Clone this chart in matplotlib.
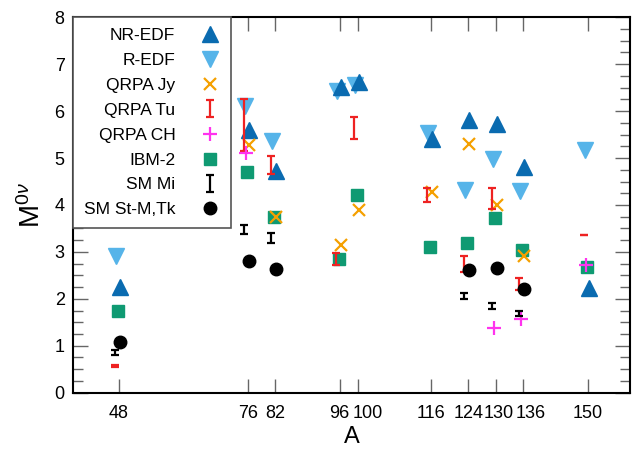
import matplotlib
matplotlib.use("Agg")
import matplotlib.pyplot as plt
from matplotlib.ticker import FixedLocator, MultipleLocator
from matplotlib.transforms import ScaledTranslation

plt.rcParams['font.family'] = ['Liberation Sans', 'DejaVu Sans']
plt.rcParams['mathtext.fontset'] = 'custom'
plt.rcParams['mathtext.rm'] = 'Liberation Sans'
plt.rcParams['mathtext.it'] = 'Liberation Sans:italic'

# ---- data ----
A_ticks = [48, 76, 82, 96, 100, 116, 124, 130, 136, 150]

nr_A = [48, 76, 82, 96, 100, 116, 124, 130, 136, 150]
nr_edf = [2.25, 5.60, 4.72, 6.52, 6.62, 5.40, 5.82, 5.73, 4.80, 2.23]

r_A = [48, 76, 82, 96, 100, 116, 124, 130, 136, 150]
r_edf = [2.92, 6.12, 5.37, 6.43, 6.56, 5.54, 4.31, 4.98, 4.30, 5.18]

jy_A = [76, 82, 96, 100, 116, 124, 130, 136]
qrpa_jy = [5.27, 3.74, 3.15, 3.90, 4.28, 5.30, 4.00, 2.91]

tu_A = [48, 76, 82, 96, 100, 116, 124, 130, 136, 150]
qrpa_tu = [0.57, 5.71, 4.85, 2.85, 5.64, 4.21, 2.74, 4.14, 2.31, 3.37]
qrpa_tu_err = [0.02, 0.55, 0.19, 0.12, 0.23, 0.15, 0.17, 0.23, 0.13, 0.0]

ch_A = [76, 130, 136, 150]
qrpa_ch = [5.10, 1.38, 1.56, 2.72]

ibm_A = [48, 76, 82, 96, 100, 116, 124, 130, 136, 150]
ibm2 = [1.75, 4.70, 3.75, 2.84, 4.22, 3.10, 3.20, 3.72, 3.05, 2.68]

mi_A = [48, 76, 82, 124, 130, 136]
sm_mi = [0.85, 3.48, 3.30, 2.06, 1.85, 1.69]
sm_mi_err = [0.05, 0.10, 0.10, 0.07, 0.07, 0.06]

tk_A = [48, 76, 82, 124, 130, 136]
sm_tk = [1.08, 2.81, 2.64, 2.62, 2.65, 2.20]

# ---- figure ----
fig = plt.figure(figsize=(6.35, 4.55), dpi=100)
ax = fig.add_axes([0.115, 0.137, 0.877, 0.825])

def shift(px):
    return ax.transData + ScaledTranslation(px / 100.0, 0, fig.dpi_scale_trans)

c_nr = '#0a6bb0'
c_r = '#56b4e9'
c_jy = '#f5a000'
c_tu = '#ee2222'
c_ch = '#ff33ee'
c_ibm = '#0f9a72'

h_nr, = ax.plot(nr_A, nr_edf, ls='none', marker='^', ms=11.5, color=c_nr,
                zorder=3, transform=shift(1))
h_r, = ax.plot(r_A, r_edf, ls='none', marker='v', ms=11.5, color=c_r,
               zorder=2, transform=shift(-3))
h_ibm, = ax.plot(ibm_A, ibm2, ls='none', marker='s', ms=8.5, color=c_ibm,
                 zorder=2.5, transform=shift(-1))
h_jy, = ax.plot(jy_A, qrpa_jy, ls='none', marker='x', ms=9, mew=1.6,
                color=c_jy, zorder=3.5, transform=shift(1))
h_tu = ax.errorbar(tu_A, qrpa_tu, yerr=qrpa_tu_err, fmt='none', ecolor=c_tu,
                   elinewidth=1.6, capsize=3, capthick=1.6, zorder=4,
                   transform=shift(-4))
h_ch, = ax.plot(ch_A, qrpa_ch, ls='none', marker='+', ms=10, mew=1.6,
                color=c_ch, zorder=4, transform=shift(-2))
h_mi = ax.errorbar(mi_A, sm_mi, yerr=sm_mi_err, fmt='none', ecolor='black',
                   elinewidth=1.6, capsize=3, capthick=1.6, zorder=4,
                   transform=shift(-4))
h_tk, = ax.plot(tk_A, sm_tk, ls='none', marker='o', ms=9, color='black',
                zorder=4.5, transform=shift(1))

ax.set_xlim(38, 159.2)
ax.set_ylim(0, 8)

ax.xaxis.set_major_locator(FixedLocator(A_ticks))
ax.set_xticklabels([str(a) for a in A_ticks])
ax.yaxis.set_major_locator(MultipleLocator(1))
ax.yaxis.set_minor_locator(MultipleLocator(0.25))

ax.tick_params(axis='x', which='major', direction='in', length=10, width=1,
               color='#666666', top=True, bottom=True, labelsize=13, pad=9)
ax.tick_params(axis='y', which='major', direction='in', length=11, width=1,
               color='#666666', left=True, right=True, labelsize=13, pad=6)
ax.tick_params(axis='y', which='minor', direction='in', length=7, width=1,
               color='#666666', left=True, right=True)

# nudge crowded x tick labels apart (as in the reference)
label_nudge_px = {100: 10, 130: 3, 136: 7}
for a, lab in zip(A_ticks, ax.get_xticklabels()):
    dx = label_nudge_px.get(a, 0)
    if dx:
        lab.set_transform(lab.get_transform() +
                          ScaledTranslation(dx / 100.0, 0, fig.dpi_scale_trans))

for s in ax.spines.values():
    s.set_linewidth(1.5)
    s.set_color('black')

ax.set_xlabel('A', fontsize=17, labelpad=3)
ax.set_ylabel(r'M$^{0\nu}$', fontsize=20, labelpad=6)

handles = [h_nr, h_r, h_jy, h_tu, h_ch, h_ibm, h_mi, h_tk]
labels = ['NR-EDF', 'R-EDF', 'QRPA Jy', 'QRPA Tu', 'QRPA CH', 'IBM-2',
          'SM Mi', 'SM St-M,Tk']
leg = ax.legend(handles, labels, loc='upper left', bbox_to_anchor=(0, 1),
                borderaxespad=0, markerfirst=False, fontsize=12.5,
                frameon=True, fancybox=False, framealpha=1,
                edgecolor='#555555', labelspacing=0.56, handlelength=1.2,
                handletextpad=1.4, borderpad=0.62)
leg.get_frame().set_linewidth(1.2)

fig.savefig('out.png', dpi=100)
